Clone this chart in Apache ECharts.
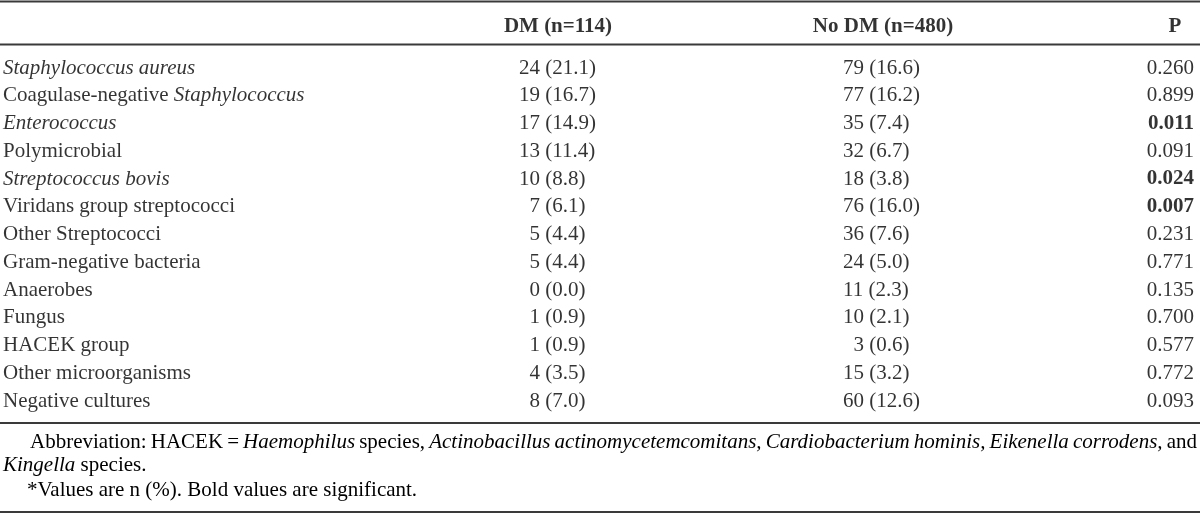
<!DOCTYPE html>
<html><head><meta charset="utf-8">
<script src="https://cdn.jsdelivr.net/npm/echarts@6/dist/echarts.min.js"></script>
<style>html,body{margin:0;padding:0;background:#fff}#c{width:1200px;height:515px}</style>
</head><body><div id="c"></div>
<script>
// ---- data ----
const headers = ['DM (n=114)', 'No DM (n=480)', 'P'];
const organisms = [
  '{i|Staphylococcus aureus}',
  'Coagulase-negative {i|Staphylococcus}',
  '{i|Enterococcus}',
  'Polymicrobial',
  '{i|Streptococcus bovis}',
  'Viridans group streptococci',
  'Other Streptococci',
  'Gram-negative bacteria',
  'Anaerobes',
  'Fungus',
  'HACEK group',
  'Other microorganisms',
  'Negative cultures'
];
const dmN   = [24, 19, 17, 13, 10, 7, 5, 5, 0, 1, 1, 4, 8];
const dmPct = ['21.1','16.7','14.9','11.4','8.8','6.1','4.4','4.4','0.0','0.9','0.9','3.5','7.0'];
const noN   = [79, 77, 35, 32, 18, 76, 36, 24, 11, 10, 3, 15, 60];
const noPct = ['16.6','16.2','7.4','6.7','3.8','16.0','7.6','5.0','2.3','2.1','0.6','3.2','12.6'];
const pVals = ['0.260','0.899','0.011','0.091','0.024','0.007','0.231','0.771','0.135','0.700','0.577','0.772','0.093'];
const footnote1 = [['Abbreviation:',0],['HACEK',0],['=',0],['Haemophilus',1],['species,',0],
  ['Actinobacillus',1],['actinomycetemcomitans,',1],['Cardiobacterium',1],['hominis,',1],
  ['Eikenella',1],['corrodens,',1],['and',0]];
const footnote2 = '{i|Kingella} species.';
const footnote3 = '*Values are n (%). Bold values are significant.';

// ---- layout ----
const FF = '"Liberation Serif", "Times New Roman", serif';
const FS = 21;
const colX = {name: 3, dm: 519, no: 843, p: 1194};
const headX = {dm: 558, no: 883, p: 1175};
const rowH = 27.75, firstRow = 68;
const ruleColor = '#3a3a3a';

const cv = document.createElement('canvas').getContext('2d');
function mw(t, it) { cv.font = (it ? 'italic ' : '') + FS + 'px "Liberation Serif"'; return cv.measureText(t).width; }
const f1Start = 30, f1End = 1197;
const wordsW = footnote1.reduce((s, w) => s + mw(w[0], w[1]), 0);
const gap = (f1End - f1Start - wordsW) / (footnote1.length - 1);
const f1Text = footnote1.map(w => '{' + (w[1] ? 'i' : 'n') + '|' + w[0] + '}').join('{g| }');

const pad = n => (n < 10 ? '{f| }' : '') + n;
const cellRich = {i: {fontStyle: 'italic', fontFamily: FF, fontSize: FS, color: '#000'},
                  f: {width: FS * 0.5, fontFamily: FF, fontSize: FS}};
const baseLabel = {show: true, position: 'inside', verticalAlign: 'middle', fontFamily: FF,
                   fontSize: FS, color: '#000', rich: cellRich};

function textSeries(xIdx, yIdx, points, align, extra) {
  return {type: 'scatter', xAxisIndex: xIdx, yAxisIndex: yIdx, symbolSize: 1, silent: true,
    itemStyle: {color: 'rgba(0,0,0,0)'},
    label: Object.assign({}, baseLabel, {align: align}, extra || {}),
    data: points};
}

const rows = organisms.map((_, i) => i);
const option = {
  animation: false,
  backgroundColor: '#fff',
  grid: [
    {left: 0, right: 0, top: firstRow - rowH / 2, height: rowH * organisms.length},
    {left: 0, right: 0, top: 10, height: 34}
  ],
  xAxis: [
    {type: 'value', min: 0, max: 1200, show: false, gridIndex: 0},
    {type: 'value', min: 0, max: 1200, show: false, gridIndex: 1}
  ],
  yAxis: [
    {type: 'category', data: rows, inverse: true, show: false, gridIndex: 0},
    {type: 'category', data: ['h'], show: false, gridIndex: 1}
  ],
  series: [
    textSeries(0, 0, organisms.map((t, i) => ({value: [colX.name, i], label: {formatter: t}})), 'left'),
    textSeries(0, 0, dmN.map((n, i) => ({value: [colX.dm, i], label: {formatter: pad(n) + ' (' + dmPct[i] + ')'}})), 'left'),
    textSeries(0, 0, noN.map((n, i) => ({value: [colX.no, i], label: {formatter: pad(n) + ' (' + noPct[i] + ')'}})), 'left'),
    textSeries(0, 0, pVals.map((p, i) => ({value: [colX.p, i],
      label: {formatter: p, fontWeight: parseFloat(p) < 0.05 ? 'bold' : 'normal'}})), 'right'),
    textSeries(1, 1, [
      {value: [headX.dm, 0], label: {formatter: headers[0]}},
      {value: [headX.no, 0], label: {formatter: headers[1]}},
      {value: [headX.p, 0], label: {formatter: headers[2]}}
    ], 'center', {fontWeight: 'bold'})
  ],
  graphic: [
    {type: 'line', shape: {x1: 0, y1: 1.5, x2: 1200, y2: 1.5}, style: {stroke: ruleColor, lineWidth: 2}},
    {type: 'line', shape: {x1: 0, y1: 44.5, x2: 1200, y2: 44.5}, style: {stroke: ruleColor, lineWidth: 2}},
    {type: 'line', shape: {x1: 0, y1: 423, x2: 1200, y2: 423}, style: {stroke: ruleColor, lineWidth: 2}},
    {type: 'line', shape: {x1: 0, y1: 512, x2: 1200, y2: 512}, style: {stroke: ruleColor, lineWidth: 2}},
    {type: 'text', x: f1Start, y: 442, style: {text: f1Text, fontFamily: FF, fontSize: FS, fill: '#000',
      verticalAlign: 'middle', rich: {
        n: {fontFamily: FF, fontSize: FS, fill: '#000'},
        i: {fontFamily: FF, fontSize: FS, fontStyle: 'italic', fill: '#000'},
        g: {width: gap, fontFamily: FF, fontSize: FS}}}},
    {type: 'text', x: 3, y: 465, style: {text: footnote2, fontFamily: FF, fontSize: FS, fill: '#000',
      verticalAlign: 'middle', rich: {i: {fontFamily: FF, fontSize: FS, fontStyle: 'italic', fill: '#000'}}}},
    {type: 'text', x: 27, y: 490, style: {text: footnote3, fontFamily: FF, fontSize: FS, fill: '#000',
      verticalAlign: 'middle'}}
  ]
};
const chart = echarts.init(document.getElementById('c'), null, {renderer: 'canvas'});
chart.setOption(option);
</script></body></html>
